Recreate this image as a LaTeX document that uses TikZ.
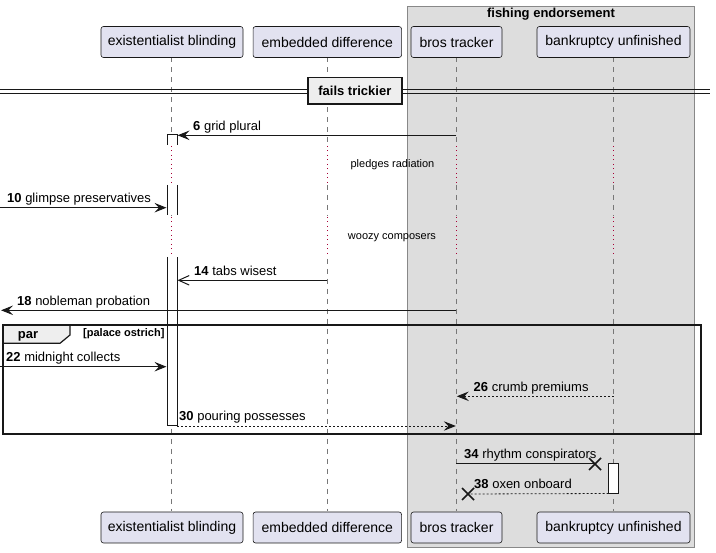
\documentclass[tikz,border=0pt]{standalone}
\usepackage{fontspec}
\setmainfont{Liberation Sans}
\usetikzlibrary{arrows.meta}
\definecolor{partfill}{HTML}{E2E2F0}
\definecolor{partline}{HTML}{181818}
\definecolor{boxfill}{HTML}{DDDDDD}
\definecolor{boxline}{HTML}{888888}
\definecolor{lifecol}{HTML}{777777}
\definecolor{delaycol}{HTML}{A80036}
\definecolor{divfill}{HTML}{EEEEEE}
\tikzset{
  part/.style={draw=partline, fill=partfill, rounded corners=2.5pt, line width=0.6pt,
    minimum height=31pt, inner sep=0pt, font=\fontsize{14}{16}\selectfont, text=black},
  life/.style={draw=lifecol, line width=0.6pt, dash pattern=on 5pt off 5pt},
  delayline/.style={draw=delaycol, line width=1pt, dash pattern=on 1pt off 3.5pt},
  msg/.style={draw=partline, line width=1pt, -{Stealth[length=12pt,width=9.5pt,inset=4.5pt]}},
  amsg/.style={draw=partline, line width=1pt, -{Straight Barb[length=10.5pt,width=9.5pt]}},
  rmsg/.style={draw=partline, line width=0.8pt, dash pattern=on 2pt off 2pt, -{Stealth[length=12pt,width=9.5pt,inset=4.5pt]}},
  xmsg/.style={draw=partline, line width=1pt},
  xdmsg/.style={draw=partline, line width=0.8pt, dash pattern=on 2pt off 2pt},
  lbl/.style={inner sep=0pt, anchor=base west, font=\fontsize{13}{15}\selectfont},
  delaytxt/.style={inner sep=0pt, font=\fontsize{11}{13}\selectfont},
  act/.style={fill=white, draw=none},
  actline/.style={draw=partline, line width=1pt},
  crossmark/.style={draw=partline, line width=1.6pt},
}
\begin{document}
\begin{tikzpicture}[x=1pt,y=-1pt]
\useasboundingbox (0,0) rectangle (716,553);
% box group
\draw[fill=boxfill, draw=boxline, line width=0.8pt] (407.7,6) rectangle (694.3,547);
\node[font=\bfseries\fontsize{13}{15}\selectfont, inner sep=0pt] (grp) at (551,14.5) {fishing endorsement};
% lifelines
\foreach \x in {171.3,327.3,456.3,613.7}{
  \draw[life] (\x,57.5) -- (\x,145);
  \draw[delayline] (\x,146) -- (\x,183);
  \draw[life] (\x,185) -- (\x,216);
  \draw[delayline] (\x,217) -- (\x,257);
  \draw[life] (\x,259) -- (\x,511);
}
% participants
\node[part, minimum width=142pt] (eb) at (172,42) {existentialist blinding};
\node[part, minimum width=148.5pt] (ed) at (327.3,42) {embedded difference};
\node[part, minimum width=91pt] (bt) at (456.5,42) {bros tracker};
\node[part, minimum width=153pt] (bu) at (613.5,42) {bankruptcy unfinished};
\node[part, minimum width=142pt] (eb2) at (172,527.5) {existentialist blinding};
\node[part, minimum width=148.5pt] (ed2) at (327.3,527.5) {embedded difference};
\node[part, minimum width=91pt] (bt2) at (456.5,527.5) {bros tracker};
\node[part, minimum width=153pt] (bu2) at (613.5,527.5) {bankruptcy unfinished};
% divider
\draw[draw=partline, line width=1pt] (0,90) -- (710,90);
\draw[draw=partline, line width=1pt] (0,93.3) -- (710,93.3);
\node[draw=partline, fill=divfill, line width=1.6pt, minimum width=93.7pt, minimum height=26.3pt, inner sep=0pt,
  font=\bfseries\fontsize{13}{15}\selectfont] (div) at (354.85,90.85) {fails trickier};
% activation on existentialist blinding
\fill[act] (167,135) rectangle (177,145);
\draw[actline] (167,145) -- (167,135) -- (177,135) -- (177,145);
\fill[act] (167,185) rectangle (177,215);
\draw[actline] (167,185) -- (167,215);
\draw[actline] (177,185) -- (177,215);
\fill[act] (167,257) rectangle (177,426);
\draw[actline] (167,257) -- (167,426) -- (177,426) -- (177,257);
% delay texts
\node[delaytxt] (d1) at (392.5,165) {pledges radiation};
\node[delaytxt] (d2) at (392,237.3) {woozy composers};
% messages
\coordinate (m6s) at (456.3,135.3); \coordinate (m6e) at (177.5,135.3);
\draw[msg] (m6s) -- (m6e);
\node[lbl] (l6) at (193,131) {\textbf{6} grid plural};
\coordinate (m10s) at (0,207.7); \coordinate (m10e) at (166.5,207.7);
\draw[msg] (m10s) -- (m10e);
\node[lbl] (l10) at (7,202.7) {\textbf{10} glimpse preservatives};
\coordinate (m14s) at (327.3,280.3); \coordinate (m14e) at (177.5,280.3);
\draw[amsg] (m14s) -- (m14e);
\node[lbl] (l14) at (194,275.5) {\textbf{14} tabs wisest};
\coordinate (m18s) at (456.3,310.3); \coordinate (m18e) at (1,310.3);
\draw[msg] (m18s) -- (m18e);
\node[lbl] (l18) at (17,305.5) {\textbf{18} nobleman probation};
% par frame
\draw[draw=partline, line width=1.2pt, fill=divfill] (3,325) -- (70,325) -- (70,335) -- (60,343.3) -- (3,343.3) -- cycle;
\draw[draw=partline, line width=1.5pt] (3,325) rectangle (701,434);
\node[inner sep=0pt, font=\bfseries\fontsize{13}{15}\selectfont] (par) at (28,336) {par};
\node[inner sep=0pt, anchor=west, font=\bfseries\fontsize{11}{13}\selectfont] (guard) at (83,334) {[palace ostrich]};
\coordinate (m22s) at (0,366.7); \coordinate (m22e) at (166.5,366.7);
\draw[msg] (m22s) -- (m22e);
\node[lbl] (l22) at (6,361.7) {\textbf{22} midnight collects};
\coordinate (m26s) at (613.7,396.3); \coordinate (m26e) at (456.8,396.3);
\draw[rmsg] (m26s) -- (m26e);
\node[lbl] (l26) at (473.5,391.3) {\textbf{26} crumb premiums};
\coordinate (m30s) at (177,426); \coordinate (m30e) at (455.8,426);
\draw[rmsg] (m30s) -- (m30e);
\node[lbl] (l30) at (179,421) {\textbf{30} pouring possesses};
% destroy messages
\coordinate (m34s) at (456.3,464); \coordinate (x34) at (595,464);
\draw[xmsg] (m34s) -- (x34);
\draw[crossmark] ([shift={(-6,-6)}]x34) -- ([shift={(6,6)}]x34);
\draw[crossmark] ([shift={(-6,6)}]x34) -- ([shift={(6,-6)}]x34);
\node[lbl] (l34) at (464,459) {\textbf{34} rhythm conspirators};
\fill[white] (608.7,464) rectangle (618.3,494);
\draw[draw=partline, line width=1pt] (608.7,464) rectangle (618.3,494);
\coordinate (m38s) at (608.7,493.5); \coordinate (x38) at (468,494);
\draw[xdmsg] (m38s) -- (x38);
\draw[crossmark] ([shift={(-6,-6)}]x38) -- ([shift={(6,6)}]x38);
\draw[crossmark] ([shift={(-6,6)}]x38) -- ([shift={(6,-6)}]x38);
\node[lbl] (l38) at (474,489) {\textbf{38} oxen onboard};
\end{tikzpicture}
\end{document}
